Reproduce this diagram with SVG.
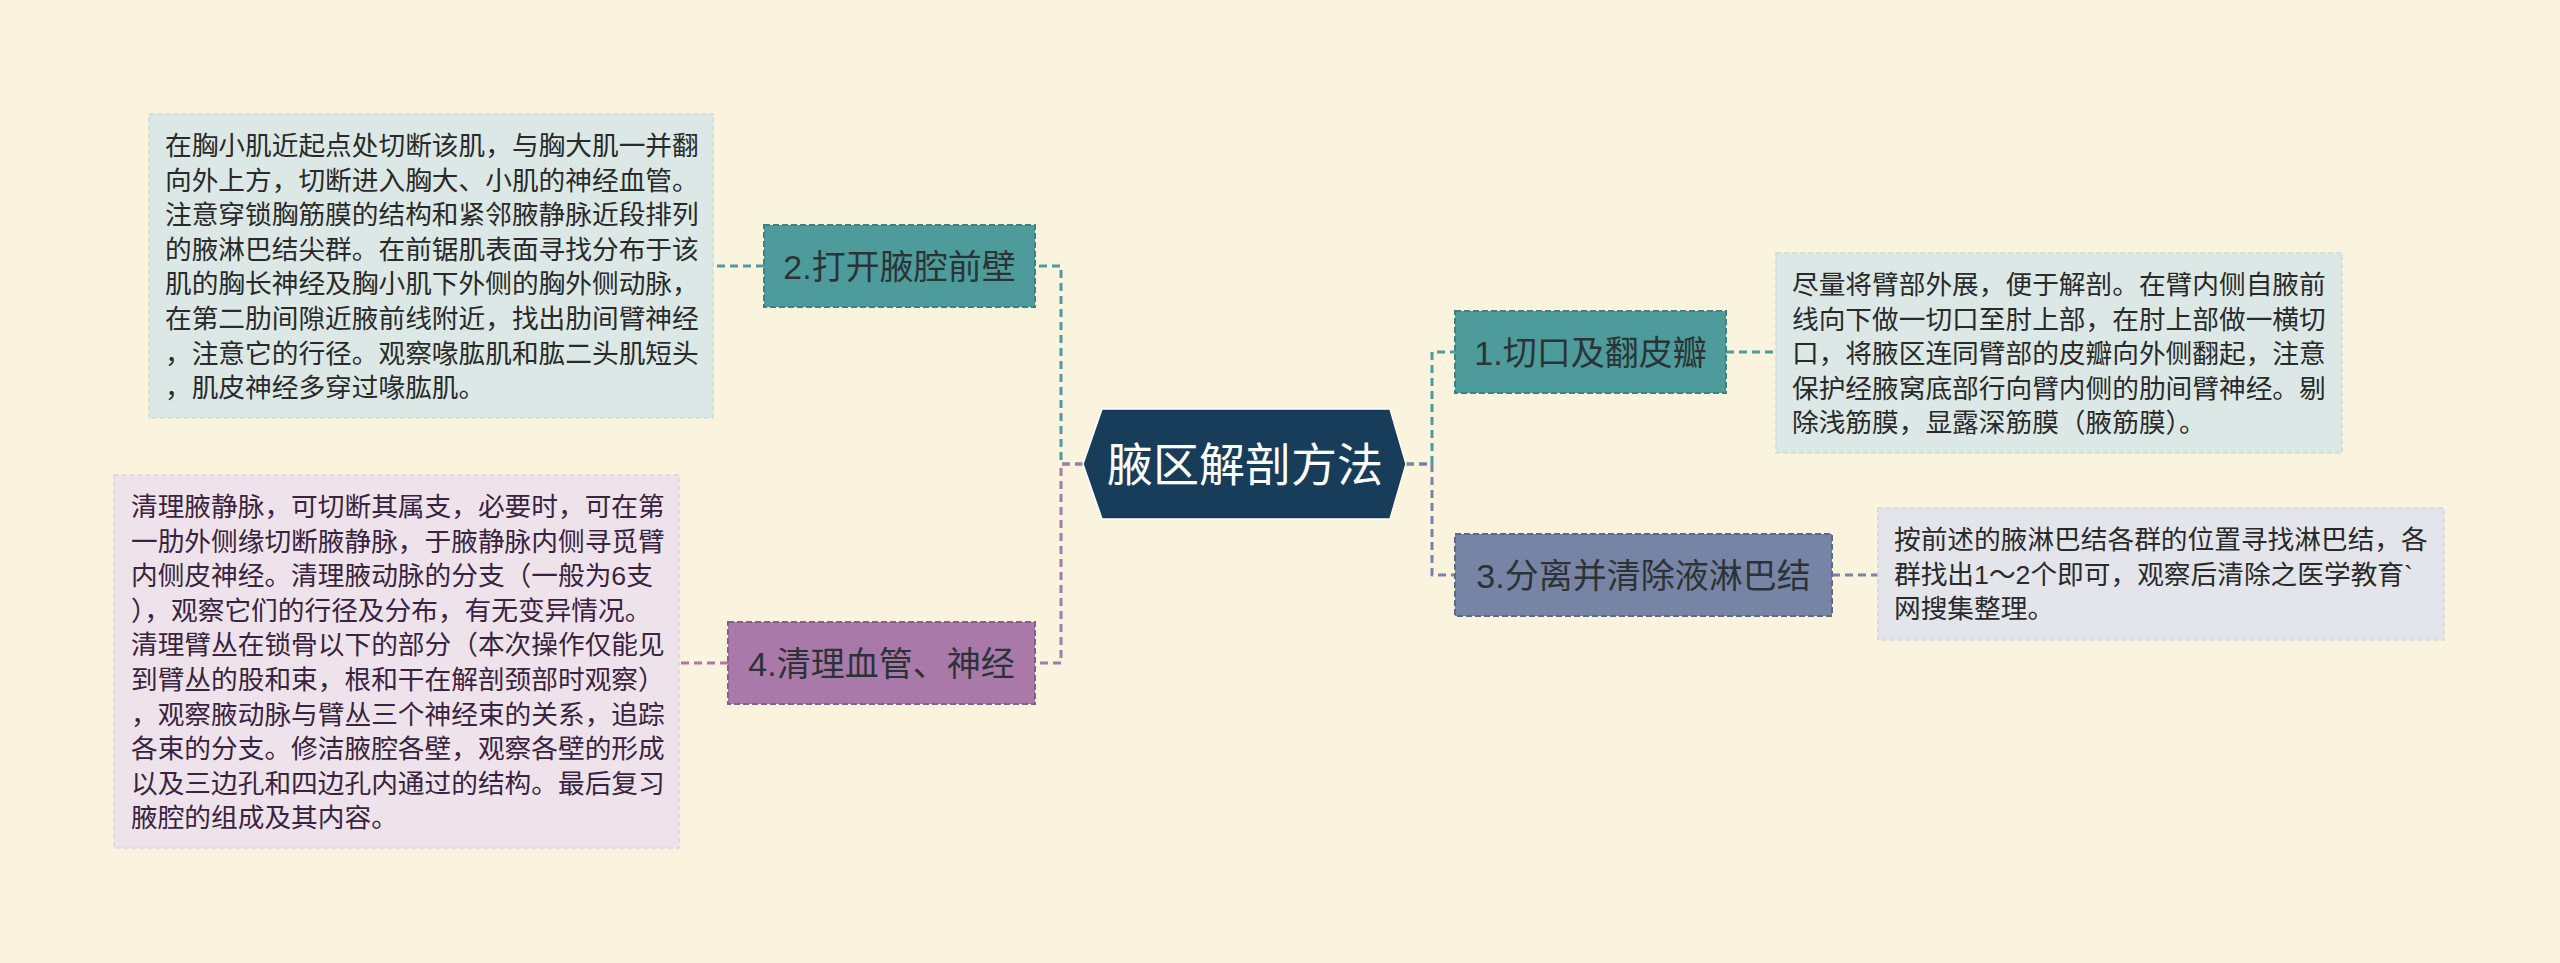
<svg xmlns="http://www.w3.org/2000/svg" width="2560" height="963" viewBox="0 0 2560 963">
<style>
.cjk{font-family:"Liberation Sans","Noto Sans CJK SC",sans-serif}
.node-label{font-size:34px;fill:#2B3336;text-anchor:middle}
.root-label{font-size:46px;fill:#FFFFFF;text-anchor:middle}
.leaf-text{font-size:26.7px;fill:#2A2A2A}
.leaf-text.purple{fill:#3A2340}
.conn{fill:none;stroke-width:3;stroke-dasharray:8 5;stroke-linejoin:round}
.teal{stroke:#4D9B9B}
.slate{stroke:#7784A5}
.plum{stroke:#A979A9}
.nbox{stroke-width:2;stroke-dasharray:6 3}
.lbox{stroke-width:1.5;stroke-dasharray:5 3}
</style>
<rect x="0" y="0" width="2560" height="963" fill="#FAF4DF"/>

<g id="connectors">
<path class="conn teal" d="M1083,464 H1061 V266 H1035"/>
<path class="conn plum" d="M1083,464 H1061 V663 H1035"/>
<path class="conn teal" d="M1406,464 H1432 V352 H1455"/>
<path class="conn slate" d="M1406,464 H1432 V575 H1455"/>
<path class="conn teal" d="M764,266 H713"/>
<path class="conn plum" d="M728,663 H679"/>
<path class="conn teal" d="M1726,352 H1776"/>
<path class="conn slate" d="M1832,575 H1878"/>
</g>

<g id="root">
<polygon points="1083,464 1102,409 1390,409 1406,464 1390,519 1102,519" fill="#183D5B" stroke="#FFFFFF" stroke-width="1.5"/>
<text class="cjk root-label" x="1245" y="481">腋区解剖方法</text>
</g>

<g id="node-2">
<rect class="nbox" x="764" y="225" width="271" height="82" fill="#4D9B9B" stroke="#3C8283"/>
<text class="cjk node-label" x="899.5" y="279">2.打开腋腔前壁</text>
</g>

<g id="node-4">
<rect class="nbox" x="728" y="622" width="307" height="82" fill="#A979A9" stroke="#8A5C8C"/>
<text class="cjk node-label" x="881.5" y="676">4.清理血管、神经</text>
</g>

<g id="node-1">
<rect class="nbox" x="1455" y="311" width="271" height="82" fill="#4D9B9B" stroke="#3C8283"/>
<text class="cjk node-label" x="1590.5" y="365">1.切口及翻皮瓣</text>
</g>

<g id="node-3">
<rect class="nbox" x="1455" y="534" width="377" height="82" fill="#7784A5" stroke="#5E6988"/>
<text class="cjk node-label" x="1643.5" y="588">3.分离并清除液淋巴结</text>
</g>

<g id="leaf-2">
<rect class="lbox" x="149" y="114" width="564" height="304" fill="#DCE8E5" stroke="#C9DAD7"/>
<text class="cjk leaf-text" x="165" y="155">
<tspan x="165" dy="0">在胸小肌近起点处切断该肌，与胸大肌一并翻</tspan>
<tspan x="165" dy="34.6">向外上方，切断进入胸大、小肌的神经血管。</tspan>
<tspan x="165" dy="34.6">注意穿锁胸筋膜的结构和紧邻腋静脉近段排列</tspan>
<tspan x="165" dy="34.6">的腋淋巴结尖群。在前锯肌表面寻找分布于该</tspan>
<tspan x="165" dy="34.6">肌的胸长神经及胸小肌下外侧的胸外侧动脉，</tspan>
<tspan x="165" dy="34.6">在第二肋间隙近腋前线附近，找出肋间臂神经</tspan>
<tspan x="165" dy="34.6">，注意它的行径。观察喙肱肌和肱二头肌短头</tspan>
<tspan x="165" dy="34.6">，肌皮神经多穿过喙肱肌。</tspan>
</text>
</g>

<g id="leaf-4">
<rect class="lbox" x="114" y="475" width="565" height="373" fill="#EEE3EB" stroke="#E0D0DC"/>
<text class="cjk leaf-text purple" x="131" y="516">
<tspan x="131" dy="0">清理腋静脉，可切断其属支，必要时，可在第</tspan>
<tspan x="131" dy="34.6">一肋外侧缘切断腋静脉，于腋静脉内侧寻觅臂</tspan>
<tspan x="131" dy="34.6">内侧皮神经。清理腋动脉的分支（一般为6支</tspan>
<tspan x="131" dy="34.6">），观察它们的行径及分布，有无变异情况。</tspan>
<tspan x="131" dy="34.6">清理臂丛在锁骨以下的部分（本次操作仅能见</tspan>
<tspan x="131" dy="34.6">到臂丛的股和束，根和干在解剖颈部时观察）</tspan>
<tspan x="131" dy="34.6">，观察腋动脉与臂丛三个神经束的关系，追踪</tspan>
<tspan x="131" dy="34.6">各束的分支。修洁腋腔各壁，观察各壁的形成</tspan>
<tspan x="131" dy="34.6">以及三边孔和四边孔内通过的结构。最后复习</tspan>
<tspan x="131" dy="34.6">腋腔的组成及其内容。</tspan>
</text>
</g>

<g id="leaf-1">
<rect class="lbox" x="1776" y="253" width="566" height="200" fill="#DCE8E5" stroke="#C9DAD7"/>
<text class="cjk leaf-text" x="1792" y="294">
<tspan x="1792" dy="0">尽量将臂部外展，便于解剖。在臂内侧自腋前</tspan>
<tspan x="1792" dy="34.6">线向下做一切口至肘上部，在肘上部做一横切</tspan>
<tspan x="1792" dy="34.6">口，将腋区连同臂部的皮瓣向外侧翻起，注意</tspan>
<tspan x="1792" dy="34.6">保护经腋窝底部行向臂内侧的肋间臂神经。剔</tspan>
<tspan x="1792" dy="34.6">除浅筋膜，显露深筋膜（腋筋膜）。</tspan>
</text>
</g>

<g id="leaf-3">
<rect class="lbox" x="1878" y="508" width="566" height="132" fill="#E3E5EB" stroke="#D2D5DF"/>
<text class="cjk leaf-text" x="1894" y="549">
<tspan x="1894" dy="0">按前述的腋淋巴结各群的位置寻找淋巴结，各</tspan>
<tspan x="1894" dy="34.6">群找出1～2个即可，观察后清除之医学教育`</tspan>
<tspan x="1894" dy="34.6">网搜集整理。</tspan>
</text>
</g>
</svg>
